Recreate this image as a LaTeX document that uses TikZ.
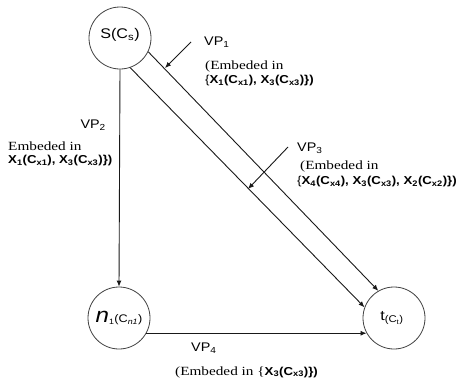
\documentclass[tikz,border=0pt]{standalone}
\usepackage{fontspec}
\setmainfont{DejaVu Serif}
\setsansfont{Liberation Sans}
\newfontfamily\lblsans[FakeStretch=1.15]{Liberation Sans}
\newfontfamily\embfont[FakeStretch=1.22]{Liberation Serif}
\usetikzlibrary{arrows.meta}
\tikzset{
  vnode/.style={circle,draw=black!75,line width=0.8pt,minimum size=62pt,inner sep=0pt},
  conn/.style={draw=black!90,line width=0.9pt,-{Latex[length=6pt,width=5pt]}},
  ptr/.style={draw=black!90,line width=0.9pt,-{Latex[length=6pt,width=5pt]}},
  vp/.style={font=\fontsize{12.5}{13}\lblsans,inner sep=0pt},
  emb/.style={font=\fontsize{12.5}{13}\embfont,inner sep=0pt},
  xs/.style={font=\fontsize{11.5}{12}\lblsans\bfseries,inner sep=0pt}
}
\newcommand{\xc}[2]{X\textsubscript{#1}(C\textsubscript{x#2})}
\begin{document}
\begin{tikzpicture}[x=1pt,y=-1pt]
\useasboundingbox (0,0) rectangle (462,378);
\node[vnode] (s) at (120,38) {};
\node[font=\fontsize{14}{14}\lblsans] at (120,35) {S(C\textsubscript{s})};
\node[vnode] (n) at (119,318) {};
\node[inner sep=0pt] at (119,318) {\fontsize{21}{21}\lblsans\itshape n\fontsize{11}{11}\lblsans\upshape\textsubscript{1}(C\textsubscript{\itshape n1})};
\node[vnode] (t) at (394,318) {};
\node[font=\fontsize{14}{14}\lblsans] at (392,318) {t\textsubscript{(C\textsubscript{t})}};
% connectors
\draw[conn] (s.-90) -- (n.90);
\draw[conn] (s.-26) -- (t.120);
\draw[conn] (s.-71) -- (t.160);
\draw[conn] (n.-29) -- (t.-151);
% pointers
\coordinate (p1a) at (191,42);
\coordinate (p1b) at (165,68);
\draw[ptr] (p1a) -- (p1b);
\coordinate (p3a) at (288,147);
\coordinate (p3b) at (248,189);
\draw[ptr] (p3a) -- (p3b);
% labels VP1
\node[vp,anchor=west] (vp1) at (204,42) {VP\textsubscript{1}};
\node[emb,anchor=west] (e1) at (205,66) {(Embeded in};
\node[xs,anchor=west] (x1) at (205,81) {\textmd{\{}\xc{1}{1}, \xc{3}{3}\})};
% VP2
\node[vp,anchor=east] (vp2) at (106,125) {VP\textsubscript{2}};
\node[emb,anchor=west] (e2) at (8,146) {Embeded in};
\node[xs,anchor=west] (x2) at (8,161) {\xc{1}{1}, \xc{3}{3}\})};
% VP3
\node[vp,anchor=west] (vp3) at (297,148) {VP\textsubscript{3}};
\node[emb,anchor=west] (e3) at (300,166) {(Embeded in};
\node[xs,anchor=west] (x3) at (297,182) {\textmd{\{}\xc{4}{4}, \xc{3}{3}, \xc{2}{2}\})};
% VP4
\node[vp,anchor=west] (vp4) at (191,348) {VP\textsubscript{4}};
\node[anchor=west,inner sep=0pt] (e4) at (175,372) {\fontsize{12.5}{13}\embfont(Embeded in \{\fontsize{11.5}{12}\lblsans\bfseries\xc{3}{3}\})};
\end{tikzpicture}
\end{document}
